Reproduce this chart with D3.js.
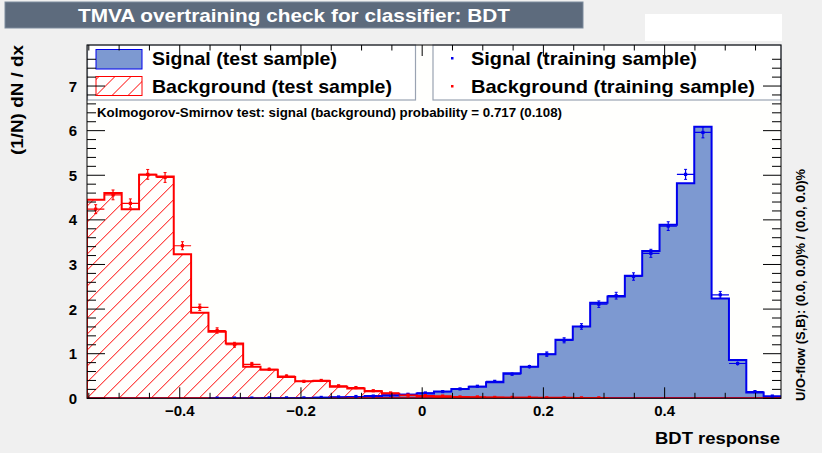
<!DOCTYPE html>
<html><head><meta charset="utf-8">
<script src="https://cdn.jsdelivr.net/npm/d3@7"></script>
<style>html,body{margin:0;padding:0;background:#f0f0f0;}svg{display:block;font-family:"Liberation Sans",Arial,sans-serif;}</style>
</head><body>
<script>
// ---------- data ----------
const xRange = [-0.553, 0.592];
const nBins = 40;
const yMax = 7.92;
const xMajorTicks = [-0.4, -0.2, 0, 0.2, 0.4];
const xTickLabels = ["\u22120.4", "\u22120.2", "0", "0.2", "0.4"];
const yMajorTicks = [0, 1, 2, 3, 4, 5, 6, 7];
const yTickLabels = ["0", "1", "2", "3", "4", "5", "6", "7"];

const bkgTest = [4.45,4.60,4.24,5.01,4.97,3.23,1.92,1.49,1.23,0.71,0.64,0.48,0.38,0.39,0.26,0.22,0.16,0.10,0.07,0.05,
                 0.04,0.03,0.02,0.02,0.01,0.01,0.01,0.01,0.005,0.005,0,0,0,0,0,0,0,0,0,0];
const sigTest = [0,0,0,0,0,0,0,0,0,0,0,0,0.005,0.01,0.02,0.03,0.05,0.06,0.08,0.11,
                 0.15,0.21,0.26,0.36,0.56,0.71,0.99,1.31,1.61,2.14,2.28,2.75,3.30,3.89,4.82,6.09,2.24,0.86,0.13,0.04];
const bkgTrain = [4.24,4.56,4.37,5.02,4.95,3.42,2.04,1.52,1.20,0.76,0.65,0.50,0.38,0.40,0.28,0.24,0.17,0.12,0.07,0.06,
                  0.05,0.03,0.03,0.02,0.02,0.02,0.01,0.01,0.01,0.01,null,null,null,null,null,null,null,null,null,null];
const bkgTrainErr = [0.10,0.11,0.10,0.11,0.11,0.09,0.07,0.06,0.055,0.045,0.04,0.035,0.03,0.03,0.025,0.025,0.02,0.02,0.015,0.012,
                     0.011,0.009,0.009,0.007,0.007,0.007,0.005,0.005,0.005,0.005,0,0,0,0,0,0,0,0,0,0];
const sigTrain = [null,null,null,null,null,null,null,0.005,0.005,0.005,0.01,0.01,0.01,0.02,0.03,0.04,0.05,0.07,0.09,0.12,
                  0.15,0.21,0.27,0.38,0.54,0.71,0.99,1.30,1.61,2.11,2.30,2.73,3.25,3.86,5.02,5.96,2.32,0.78,0.15,0.05];
const sigTrainErr = [0,0,0,0,0,0,0,0.004,0.004,0.004,0.005,0.005,0.005,0.007,0.009,0.01,0.011,0.013,0.015,0.017,
                     0.02,0.023,0.026,0.03,0.037,0.042,0.05,0.057,0.063,0.073,0.076,0.083,0.09,0.098,0.112,0.122,0.076,0.044,0.019,0.011];

const titleText = "TMVA overtraining check for classifier: BDT";
const yTitle = "(1/N) dN / dx";
const xTitle = "BDT response";
const ksText = "Kolmogorov-Smirnov test: signal (background) probability = 0.717 (0.108)";
const uoText = "U/O-flow (S,B): (0.0, 0.0)% / (0.0, 0.0)%";
const legendLeft = ["Signal (test sample)", "Background (test sample)"];
const legendRight = ["Signal (training sample)", "Background (training sample)"];

// ---------- layout ----------
const W = 822, H = 453;
const F = {l: 87, r: 781, t: 45, b: 398.3};
const sigFill = "#7d99d1", sigLine = "#0000ee", bkgLine = "#ff0000";
const hatchStep = 16;

const svg = d3.select("body").append("svg").attr("width", W).attr("height", H);
svg.append("rect").attr("width", W).attr("height", H).attr("fill", "#f0f0f0");

const defs = svg.append("defs");
defs.append("clipPath").attr("id", "clip").append("rect")
  .attr("x", F.l).attr("y", F.t).attr("width", F.r - F.l).attr("height", F.b - F.t);

const x = d3.scaleLinear().domain(xRange).range([F.l, F.r]);
const y = d3.scaleLinear().domain([0, yMax]).range([F.b, F.t]);
const bw = (xRange[1] - xRange[0]) / nBins;
const edge = i => xRange[0] + i * bw;

// hatch: diagonal "/" lines drawn inside a clip region
function hatchInto(parent, clipId, x0, y0, x1, y1) {
  const hg = parent.append("g").attr("clip-path", `url(#${clipId})`);
  const span = (x1 - x0) + (y1 - y0);
  for (let s = -Math.ceil((y1 - y0) / hatchStep) * hatchStep; s <= (x1 - x0) + hatchStep; s += hatchStep) {
    // line from bottom (x0+s, y1) going up-right
    hg.append("line").attr("x1", x0 + s).attr("y1", y1).attr("x2", x0 + s + span).attr("y2", y1 - span)
      .style("stroke", bkgLine).style("stroke-width", "1px");
  }
  return hg;
}

// title box
svg.append("rect").attr("x", 5).attr("y", 2).attr("width", 578).attr("height", 26)
  .attr("fill", "#5d6b7d").attr("stroke", "#7d8b9d").attr("stroke-width", 1);
svg.append("text").attr("x", 294).attr("y", 22).attr("text-anchor", "middle")
  .attr("fill", "#ffffff").attr("font-weight", "bold").attr("font-size", 19)
  .attr("textLength", 432).attr("lengthAdjust", "spacingAndGlyphs").text(titleText);

// top-right white box
svg.append("rect").attr("x", 645).attr("y", 14).attr("width", 137).attr("height", 27).attr("fill", "#ffffff");

// frame
svg.append("rect").attr("x", F.l).attr("y", F.t).attr("width", F.r - F.l).attr("height", F.b - F.t)
  .attr("fill", "#fffffd");

const g = svg.append("g").attr("clip-path", "url(#clip)");

function histPath(vals) {
  let p = `M${x(edge(0))},${y(0)}`;
  vals.forEach((v, i) => { p += `L${x(edge(i))},${y(v)}L${x(edge(i + 1))},${y(v)}`; });
  p += `L${x(edge(vals.length))},${y(0)}Z`;
  return p;
}
g.append("path").attr("d", histPath(sigTest)).attr("fill", sigFill)
  .attr("stroke", sigLine).attr("stroke-width", 2);
defs.append("clipPath").attr("id", "bkgclip").append("path").attr("d", histPath(bkgTest));
hatchInto(g, "bkgclip", F.l, F.t, F.r, F.b);
g.append("path").attr("d", histPath(bkgTest)).attr("fill", "none")
  .attr("stroke", bkgLine).attr("stroke-width", 2);

function points(vals, errs, color) {
  const gg = g.append("g").attr("stroke", color).attr("fill", color);
  vals.forEach((v, i) => {
    if (v === null) return;
    const cx = x(edge(i) + bw / 2), cy = y(v);
    const e = errs[i];
    gg.append("line").attr("x1", x(edge(i))).attr("x2", x(edge(i + 1))).attr("y1", cy).attr("y2", cy).attr("stroke-width", 1.2);
    if (e > 0) {
      gg.append("line").attr("x1", cx).attr("x2", cx).attr("y1", y(v + e)).attr("y2", y(v - e)).attr("stroke-width", 1.2);
      if (y(v - e) - y(v + e) > 4) {
        gg.append("line").attr("x1", cx - 1.5).attr("x2", cx + 1.5).attr("y1", y(v + e)).attr("y2", y(v + e)).attr("stroke-width", 1);
        gg.append("line").attr("x1", cx - 1.5).attr("x2", cx + 1.5).attr("y1", y(v - e)).attr("y2", y(v - e)).attr("stroke-width", 1);
      }
    }
    gg.append("rect").attr("x", cx - 1.6).attr("y", cy - 1.6).attr("width", 3.2).attr("height", 3.2).attr("stroke", "none");
  });
}
points(sigTrain, sigTrainErr, sigLine);
points(bkgTrain, bkgTrainErr, bkgLine);

// legends
const legBorder = "#9aa3b2";
svg.append("rect").attr("x", F.l + 0.5).attr("y", F.t).attr("width", 415 - F.l).attr("height", 55)
  .attr("fill", "#ffffff").attr("stroke", legBorder).attr("stroke-width", 1.2);
svg.append("rect").attr("x", 433).attr("y", F.t).attr("width", F.r - 433).attr("height", 55)
  .attr("fill", "#ffffff").attr("stroke", legBorder).attr("stroke-width", 1.2);
svg.append("rect").attr("x", 96).attr("y", 49.5).attr("width", 46).attr("height", 19.5)
  .attr("fill", sigFill).attr("stroke", sigLine).attr("stroke-width", 1);
defs.append("clipPath").attr("id", "legclip").append("rect")
  .attr("x", 96).attr("y", 76.5).attr("width", 46).attr("height", 19);
hatchInto(svg, "legclip", 96, 76.5, 142, 95.5);
svg.append("rect").attr("x", 96).attr("y", 76.5).attr("width", 46).attr("height", 19)
  .attr("fill", "none").attr("stroke", bkgLine).attr("stroke-width", 1);
const legTextL = [185, 240], legTextR = [226, 284];
legendLeft.forEach((t, i) => {
  svg.append("text").attr("x", 152).attr("y", 65 + i * 28).attr("font-size", 19).attr("font-weight", "bold").attr("fill", "#000")
    .attr("textLength", legTextL[i]).attr("lengthAdjust", "spacingAndGlyphs").text(t);
});
legendRight.forEach((t, i) => {
  svg.append("text").attr("x", 471).attr("y", 65 + i * 28).attr("font-size", 19).attr("font-weight", "bold").attr("fill", "#000")
    .attr("textLength", legTextR[i]).attr("lengthAdjust", "spacingAndGlyphs").text(t);
  svg.append("rect").attr("x", 451).attr("y", 57 + i * 28).attr("width", 2.5).attr("height", 2.5)
    .attr("fill", i === 0 ? sigLine : bkgLine);
});

// KS text
svg.append("text").attr("x", 97).attr("y", 117).attr("font-size", 12.5).attr("font-weight", "bold")
  .attr("textLength", 465).attr("lengthAdjust", "spacingAndGlyphs").text(ksText);

// frame border
svg.append("rect").attr("x", F.l).attr("y", F.t).attr("width", F.r - F.l).attr("height", F.b - F.t)
  .attr("fill", "none").attr("stroke", "#000").attr("stroke-width", 1);

// axes ticks (inside, on all sides)
const ax = svg.append("g").attr("stroke", "#000").attr("stroke-width", 1);
const xMinor = d3.range(-0.55, 0.5901, 0.05).map(v => Math.round(v * 100) / 100);
xMinor.forEach(v => {
  const isMaj = xMajorTicks.some(m => Math.abs(m - v) < 1e-6);
  const L = isMaj ? 11 : 5.5;
  const px = x(v);
  if (px < F.l + 0.5 || px > F.r - 0.5) return;
  ax.append("line").attr("x1", px).attr("x2", px).attr("y1", F.b).attr("y2", F.b - L);
  ax.append("line").attr("x1", px).attr("x2", px).attr("y1", F.t).attr("y2", F.t + L);
});
d3.range(0, 39).map(k => k * 0.2).forEach(v => {
  if (v > yMax) return;
  const isMaj = Math.abs(v - Math.round(v)) < 1e-6;
  const L = isMaj ? 18 : 9;
  const py = y(v);
  ax.append("line").attr("x1", F.l).attr("x2", F.l + L).attr("y1", py).attr("y2", py);
  ax.append("line").attr("x1", F.r).attr("x2", F.r - L).attr("y1", py).attr("y2", py);
});

// tick labels
yMajorTicks.forEach((v, i) => {
  svg.append("text").attr("x", 77).attr("y", y(v) + 5.5).attr("text-anchor", "end")
    .attr("font-size", 15).attr("font-weight", "bold").text(yTickLabels[i]);
});
xMajorTicks.forEach((v, i) => {
  svg.append("text").attr("x", x(v)).attr("y", 416).attr("text-anchor", "middle")
    .attr("font-size", 15).attr("font-weight", "bold").text(xTickLabels[i]);
});

// axis titles
svg.append("text").attr("x", 780).attr("y", 444).attr("text-anchor", "end")
  .attr("font-size", 17).attr("font-weight", "bold")
  .attr("textLength", 125).attr("lengthAdjust", "spacingAndGlyphs").text(xTitle);
svg.append("text").attr("transform", "translate(23,100) rotate(-90)").attr("text-anchor", "middle")
  .attr("font-size", 17).attr("font-weight", "bold")
  .attr("textLength", 110).attr("lengthAdjust", "spacingAndGlyphs").text(yTitle);
svg.append("text").attr("transform", "translate(805,285) rotate(-90)").attr("text-anchor", "middle")
  .attr("font-size", 12).attr("font-weight", "bold")
  .attr("textLength", 232).attr("lengthAdjust", "spacingAndGlyphs").text(uoText);
</script>
</body></html>
